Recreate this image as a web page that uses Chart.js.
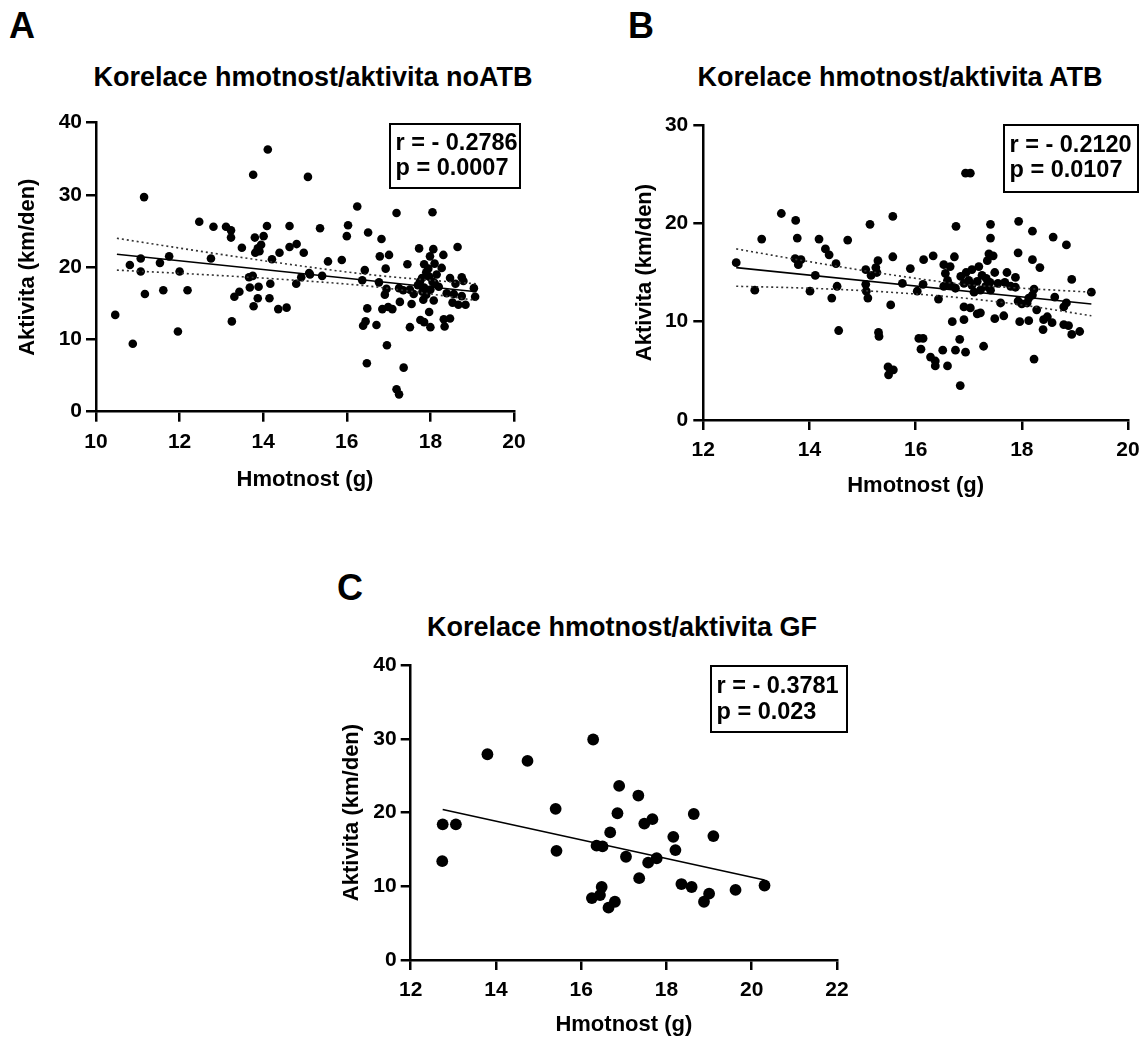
<!DOCTYPE html>
<html>
<head>
<meta charset="utf-8">
<title>Korelace hmotnost/aktivita</title>
<script src="https://cdn.jsdelivr.net/npm/chart.js@4.4.1/dist/chart.umd.min.js"></script>
<style>
  body { margin: 0; background: #fff; width: 1143px; height: 1039px; position: relative; overflow: hidden;
         font-family: "Liberation Sans", Arial, sans-serif; color: #000; }
  canvas, .lbl, .ttl, .stat { position: absolute; }
  .lbl { font-weight: bold; font-size: 36px; line-height: 1; }
  .ttl { font-weight: bold; font-size: 27px; line-height: 1; white-space: nowrap; transform: translateX(-50%); }
  .stat { box-sizing: border-box; border: 2.5px solid #000; font-weight: bold; font-size: 23.5px;
          line-height: 25px; padding-left: 4.5px; white-space: nowrap; }
</style>
</head>
<body>

<div class="lbl" style="left:9px; top:8px;">A</div>
<div class="ttl" style="left:313px; top:64px;">Korelace hmotnost/aktivita noATB</div>
<canvas id="chartA" width="570" height="500" style="left:0px; top:0px;"></canvas>
<div class="stat" style="left:389px; top:123px; width:132px; height:66px; padding-top:4.5px;">r = - 0.2786<br>p = 0.0007</div>

<div class="lbl" style="left:628px; top:8px;">B</div>
<div class="ttl" style="left:900px; top:64px;">Korelace hmotnost/aktivita ATB</div>
<canvas id="chartB" width="543" height="510" style="left:600px; top:0px;"></canvas>
<div class="stat" style="left:1003px; top:124px; width:136px; height:69px; padding-top:5.5px;">r = - 0.2120<br>p = 0.0107</div>

<div class="lbl" style="left:337px; top:570px;">C</div>
<div class="ttl" style="left:622px; top:614px;">Korelace hmotnost/aktivita GF</div>
<canvas id="chartC" width="600" height="479" style="left:300px; top:560px;"></canvas>
<div class="stat" style="left:710px; top:665px; width:138px; height:68px; padding-top:5px; line-height:26px;">r = - 0.3781<br>p = 0.023</div>

<script>
// ---- panel A: noATB ----
const weightA = [14.11, 13.76, 15.07, 11.15, 12.47, 12.81, 13.11, 13.23, 13.23, 14.09, 14.63, 13.8, 14.01, 13.49, 14.63,
  14.8, 13.95, 13.87, 13.81, 13.91, 14.39, 14.97, 14.21, 12.75, 11.07, 11.75, 10.81, 11.53, 11.07, 12.0,
  15.1, 14.91, 14.79, 13.75, 13.66, 13.68, 13.89, 14.17, 13.43, 13.31, 13.87, 14.15, 11.17, 11.61, 12.19,
  13.77, 14.36, 14.56, 10.46, 13.25, 11.96, 10.88, 16.25, 17.19, 18.05, 15.36, 16.03, 16.0, 16.51, 16.83,
  15.55, 15.88, 16.79, 17.01, 16.93, 16.43, 16.37, 16.77, 17.45, 17.73, 18.07, 18.31, 18.65, 17.99, 17.85,
  18.27, 17.9, 17.97, 18.05, 17.75, 17.85, 18.1, 18.47, 18.75, 18.79, 19.04, 19.07, 15.12, 15.41, 17.25,
  17.35, 17.51, 16.91, 17.27, 17.55, 16.85, 16.99, 17.09, 16.49, 17.81, 17.83, 18.08, 18.39, 18.56, 18.53,
  18.67, 18.84, 16.45, 16.39, 16.71, 17.51, 17.76, 17.85, 18.0, 17.97, 18.32, 18.47, 18.34, 16.96, 16.48,
  17.36, 17.19, 17.25, 17.95, 18.15, 17.8, 18.0, 18.2, 17.9, 18.1, 18.6, 17.7, 16.95, 18.75, 17.6];
const activityA = [36.3, 32.8, 32.5, 29.7, 26.3, 25.6, 25.6, 25.1, 24.1, 25.7, 25.7, 24.1, 24.3, 22.7, 22.8,
  23.2, 23.1, 22.6, 22.0, 22.2, 22.0, 22.0, 21.1, 21.2, 21.2, 21.5, 20.3, 20.6, 19.4, 19.4,
  19.2, 18.6, 17.7, 18.8, 18.6, 17.2, 17.3, 17.7, 16.6, 15.9, 15.7, 15.7, 16.3, 16.8, 16.8,
  14.6, 14.2, 14.4, 13.4, 12.5, 11.1, 9.4, 28.4, 27.5, 27.6, 25.4, 25.8, 24.3, 24.8, 23.9,
  20.8, 21.0, 21.5, 21.7, 19.8, 19.6, 18.2, 17.9, 20.4, 22.6, 22.5, 21.7, 22.8, 21.5, 20.4,
  19.9, 19.3, 18.7, 18.0, 18.0, 17.2, 17.8, 18.5, 18.6, 18.1, 17.1, 15.9, 19.0, 18.8, 17.1,
  16.8, 16.9, 16.2, 15.2, 14.9, 14.2, 14.5, 14.2, 14.3, 16.6, 15.5, 15.4, 16.4, 16.3, 15.1,
  14.8, 14.8, 12.5, 11.9, 12.0, 11.7, 12.7, 12.4, 11.7, 13.8, 12.8, 12.9, 11.8, 9.2, 6.7,
  6.1, 3.1, 2.4, 19.8, 19.0, 18.5, 16.9, 17.3, 16.2, 20.5, 17.7, 17.5, 17.0, 16.0, 16.3];
const fitXA = [10.5, 19.1];
const fitYA = [21.8, 16.6];
const bandXA = [10.5, 12.5, 14.5, 16.5, 18.0, 19.1];
const bandUpA = [24.0, 22.2, 20.5, 19.0, 18.2, 17.7];
const bandLoA = [19.6, 19.0, 18.3, 17.4, 16.3, 15.4];
const xTicksA = [10, 12, 14, 16, 18, 20];
const yTicksA = [0, 10, 20, 30, 40];

// ---- panel B: ATB ----
const weightB = [12.62, 12.97, 13.1, 13.47, 13.74, 13.77, 13.73, 13.84, 13.79, 14.11, 14.01, 14.18, 14.3, 14.37, 14.5,
  14.52, 14.42, 14.55, 14.72, 15.14, 15.06, 15.29, 15.25, 15.27, 15.16, 15.06, 15.07, 15.1, 15.57, 15.57,
  15.53, 15.3, 15.31, 15.48, 15.58, 15.49, 15.75, 16.94, 17.03, 16.76, 17.41, 17.94, 18.2, 18.59, 18.84,
  17.41, 16.15, 16.33, 16.73, 16.53, 16.65, 16.56, 17.38, 17.46, 17.35, 17.06, 17.19, 17.93, 18.2, 18.34,
  16.14, 16.03, 16.43, 16.53, 16.65, 16.75, 16.91, 17.0, 17.06, 17.16, 17.22, 17.32, 17.41, 17.33, 17.49,
  17.72, 17.68, 17.79, 17.88, 17.88, 17.93, 18.0, 18.23, 18.2, 18.13, 18.1, 18.28, 16.91, 17.03, 17.6,
  17.22, 17.16, 16.91, 16.69, 17.49, 17.66, 17.96, 18.13, 18.62, 18.84, 18.79, 18.94, 19.31, 18.41, 18.48,
  18.57, 18.4, 18.79, 18.88, 18.94, 19.09, 16.06, 16.14, 16.1, 16.28, 16.37, 16.37, 16.6, 16.51, 16.83,
  16.75, 16.94, 17.28, 16.84, 18.23, 16.85, 17.1, 17.25, 16.6, 17.55, 16.95, 17.4, 15.9];
const activityB = [16.0, 13.2, 18.4, 21.0, 20.3, 18.5, 16.4, 16.3, 15.8, 14.7, 13.1, 18.4, 17.4, 16.8, 15.9,
  13.6, 12.4, 9.1, 18.3, 19.9, 15.3, 16.2, 15.5, 15.0, 14.7, 13.8, 13.1, 12.4, 20.7, 16.6,
  11.7, 8.9, 8.5, 5.4, 5.1, 4.6, 13.9, 25.1, 25.1, 19.7, 19.9, 20.2, 19.2, 18.6, 17.8,
  18.5, 16.3, 16.7, 16.6, 15.8, 15.6, 14.9, 16.9, 16.7, 16.2, 15.3, 15.6, 17.0, 16.3, 15.5,
  13.8, 13.1, 12.3, 13.6, 13.7, 13.4, 13.9, 14.2, 13.7, 14.1, 13.2, 13.6, 13.2, 14.4, 15.0,
  15.0, 14.0, 13.6, 14.5, 13.5, 12.1, 11.8, 13.3, 12.7, 12.4, 11.9, 11.2, 11.5, 11.4, 11.9,
  10.9, 10.8, 10.2, 10.0, 10.3, 10.6, 10.0, 10.1, 12.5, 11.9, 11.5, 14.3, 13.0, 10.2, 10.5,
  9.9, 9.2, 9.7, 9.6, 8.7, 9.0, 8.3, 8.3, 7.2, 6.4, 6.0, 5.5, 5.5, 7.1, 8.2,
  7.1, 6.9, 7.5, 3.5, 6.2, 14.6, 13.0, 14.7, 14.2, 13.9, 15.0, 14.0, 15.4];
const fitXB = [12.62, 19.31];
const fitYB = [15.5, 11.8];
const bandXB = [12.62, 14.0, 15.5, 16.9, 18.0, 19.31];
const bandUpB = [17.4, 16.1, 14.8, 13.8, 13.4, 13.0];
const bandLoB = [13.6, 13.4, 13.0, 12.4, 11.7, 10.6];
const xTicksB = [12, 14, 16, 18, 20];
const yTicksB = [0, 10, 20, 30];

// ---- panel C: GF ----
const weightC = [12.75, 13.06, 12.74, 13.8, 14.74, 15.4, 15.42, 16.28, 16.36, 16.5, 16.68, 16.25, 16.48, 16.44, 16.64,
  16.79, 16.89, 16.85, 17.34, 17.48, 17.67, 18.64, 17.05, 17.57, 17.77, 18.16, 18.21, 19.1, 17.36, 18.35,
  18.59, 19.0, 18.88, 19.62, 20.3];
const activityC = [18.4, 18.4, 13.4, 27.9, 27.0, 20.5, 14.8, 29.9, 15.5, 15.4, 17.3, 8.4, 9.9, 8.8, 7.1,
  7.9, 23.6, 19.9, 22.3, 18.5, 19.1, 19.8, 14.0, 13.2, 13.8, 16.7, 14.9, 16.8, 11.1, 10.3,
  9.9, 9.0, 7.9, 9.5, 10.1];
const fitXC = [12.75, 20.3];
const fitYC = [20.4, 10.85];
const xTicksC = [12, 14, 16, 18, 20, 22];
const yTicksC = [0, 10, 20, 30, 40];

const FONT = "'Liberation Sans', Arial, sans-serif";

function pts(xs, ys) {
  return xs.map((x, i) => ({ x: x, y: ys[i] }));
}

function scatterPanel(id, p) {
  const datasets = [
    { data: pts(p.fitX, p.fitY), showLine: true, borderColor: '#000', borderWidth: 1.6, pointRadius: 0, order: 1 }
  ];
  if (p.bandX) {
    datasets.push({ data: pts(p.bandX, p.bandUp), showLine: true, borderColor: '#333', borderWidth: 1.6,
      borderDash: [2, 3], pointRadius: 0, cubicInterpolationMode: 'monotone', order: 2 });
    datasets.push({ data: pts(p.bandX, p.bandLo), showLine: true, borderColor: '#333', borderWidth: 1.6,
      borderDash: [2, 3], pointRadius: 0, cubicInterpolationMode: 'monotone', order: 2 });
  }
  datasets.push({ data: pts(p.wx, p.wy), pointRadius: p.r, pointBackgroundColor: '#000',
    pointBorderWidth: 0, showLine: false, order: 3 });

  const tickFont = { family: FONT, size: 21, weight: 'bold' };
  const titleFont = { family: FONT, size: 22, weight: 'bold' };

  return new Chart(document.getElementById(id), {
    type: 'scatter',
    data: { datasets: datasets },
    options: {
      responsive: false,
      animation: false,
      devicePixelRatio: 1,
      layout: { padding: p.pad },
      plugins: { legend: { display: false }, tooltip: { enabled: false } },
      scales: {
        x: {
          type: 'linear', min: p.xTicks[0], max: p.xTicks[p.xTicks.length - 1],
          afterBuildTicks: s => { s.ticks = p.xTicks.map(v => ({ value: v })); },
          afterFit: s => { s.height = p.xH; s.paddingLeft = 0; s.paddingRight = 0; },
          ticks: { color: '#000', font: tickFont, padding: 8, maxRotation: 0, autoSkip: false },
          grid: { drawOnChartArea: false, drawTicks: true, tickLength: 10, lineWidth: 2.5, tickWidth: 2.5, color: '#000' },
          border: { display: true, color: '#000', width: 2.5 },
          title: { display: true, text: 'Hmotnost (g)', color: '#000', font: titleFont,
                   padding: { top: 0, bottom: p.xTitlePad } }
        },
        y: {
          type: 'linear', min: p.yTicks[0], max: p.yTicks[p.yTicks.length - 1],
          afterBuildTicks: s => { s.ticks = p.yTicks.map(v => ({ value: v })); },
          afterFit: s => { s.width = p.yW; s.paddingTop = 0; s.paddingBottom = 0; },
          ticks: { color: '#000', font: tickFont, padding: p.yTickPad, autoSkip: false },
          grid: { drawOnChartArea: false, drawTicks: true, tickLength: 10, lineWidth: 2.5, tickWidth: 2.5, color: '#000' },
          border: { display: true, color: '#000', width: 2.5 },
          title: { display: true, text: 'Aktivita (km/den)', color: '#000', font: titleFont,
                   padding: { top: p.yTitlePad, bottom: 0 } }
        }
      }
    }
  });
}

scatterPanel('chartA', {
  wx: weightA, wy: activityA, fitX: fitXA, fitY: fitYA,
  bandX: bandXA, bandUp: bandUpA, bandLo: bandLoA,
  xTicks: xTicksA, yTicks: yTicksA, r: 4.3,
  pad: { left: 10, top: 122.7, right: 56, bottom: 0 },
  yW: 86, xH: 88.3, yTitlePad: 4.8, xTitlePad: 6.8, yTickPad: 4
});

scatterPanel('chartB', {
  wx: weightB, wy: activityB, fitX: fitXB, fitY: fitYB,
  bandX: bandXB, bandUp: bandUpB, bandLo: bandLoB,
  xTicks: xTicksB, yTicks: yTicksB, r: 4.4,
  pad: { left: 23.3, top: 125, right: 15, bottom: 0 },
  yW: 80, xH: 90, yTitlePad: 8.5, xTitlePad: 10.8, yTickPad: 5
});

scatterPanel('chartC', {
  wx: weightC, wy: activityC, fitX: fitXC, fitY: fitYC,
  xTicks: xTicksC, yTicks: yTicksC, r: 5.9,
  pad: { left: 30.7, top: 105, right: 63, bottom: 0 },
  yW: 80, xH: 79, yTitlePad: 8.1, xTitlePad: 0.8, yTickPad: 4
});
</script>
</body>
</html>
